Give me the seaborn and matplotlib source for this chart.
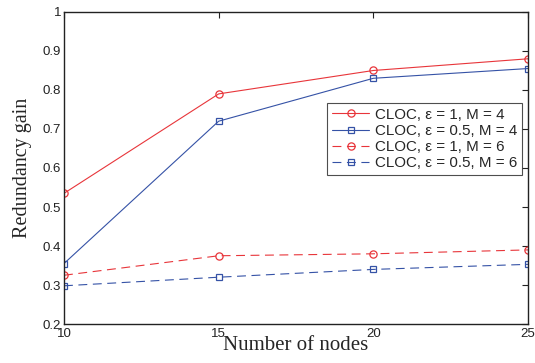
import numpy as np
import pandas as pd
import matplotlib
matplotlib.use("Agg")
import matplotlib.pyplot as plt
import seaborn as sns

# --- datos ---
nodes = [10, 15, 20, 25]
red_m4 = [0.535, 0.79, 0.85, 0.88]
blue_m4 = [0.355, 0.72, 0.83, 0.855]
red_m6 = [0.325, 0.375, 0.38, 0.39]
blue_m6 = [0.298, 0.32, 0.34, 0.353]
labels = ["CLOC, ε = 1, M = 4", "CLOC, ε = 0.5, M = 4",
          "CLOC, ε = 1, M = 6", "CLOC, ε = 0.5, M = 6"]

RED = "#e8353a"
BLUE = "#3552a6"
DASH = (0, (8, 5))

sns.set_style("white")
plt.rcParams['font.family'] = ['Liberation Sans', 'DejaVu Sans']

fig = plt.figure(figsize=(5.35, 3.63), dpi=100)
ax = fig.add_axes([0.1196, 0.1074, 0.8674, 0.8596])

series = [
    (red_m4, RED, '-', 'o'),
    (blue_m4, BLUE, '-', 's'),
    (red_m6, RED, DASH, 'o'),
    (blue_m6, BLUE, DASH, 's'),
]
for (vals, col, ls, mk), lab in zip(series, labels):
    df = pd.DataFrame({'n': nodes, 'gain': vals})
    sns.lineplot(data=df, x='n', y='gain', ax=ax, color=col, linestyle=ls,
                 marker=mk, markersize=5.2 if mk == 'o' else 4.3,
                 markerfacecolor='none', markeredgecolor=col,
                 markeredgewidth=0.9, linewidth=0.8, label=lab)

ax.set_xlim(10, 25)
ax.set_ylim(0.2, 1)
ax.set_xticks([10, 15, 20, 25])
ax.set_yticks(np.round(np.arange(0.2, 1.01, 0.1), 1))
ax.set_yticklabels(['0.2', '0.3', '0.4', '0.5', '0.6', '0.7', '0.8', '0.9', '1'])
ax.tick_params(direction='in', length=4, width=0.8, top=True, right=True,
               labelsize=9.5, colors='#222222', pad=2)
ax.tick_params(axis='x', pad=3)
for s in ax.spines.values():
    s.set_linewidth(1.0)
    s.set_color('#222222')

ax.set_xlabel('Number of nodes', fontfamily='Liberation Serif', fontsize=15, labelpad=-3)
ax.set_ylabel('Redundancy gain', fontfamily='Liberation Serif', fontsize=14.5, labelpad=8)

leg = ax.legend(loc='upper left', bbox_to_anchor=(0.567, 0.708), fontsize=10.9,
                frameon=True, fancybox=False, borderpad=0.3, labelspacing=0.15,
                handlelength=2.5, handletextpad=0.35, borderaxespad=0)
leg.get_frame().set_edgecolor('#222222')
leg.get_frame().set_linewidth(0.8)

fig.savefig('out.png', dpi=100)
